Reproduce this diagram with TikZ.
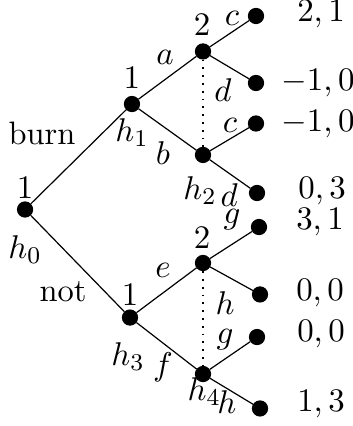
\documentclass[tikz,border=0pt]{standalone}
\usepackage{amsmath}
\usepackage{xcolor}
\usepackage{tikz}
\usetikzlibrary{positioning}

\begin{document}
\begin{tikzpicture}[
            every node/.style={font=\fontsize{10.8pt}{13pt}\selectfont},
            dot/.style={circle, fill=black, draw=black, inner sep=0pt, minimum size=5pt},
            txt/.style={inner sep=0pt},
            pay/.style={inner sep=0pt, anchor=base},
            edge/.style={thin},
            infoset/.style={dotted, semithick}]

            \useasboundingbox (0,0) rectangle (4.13,4.984);

            % Decision nodes
            \node (h0) [dot] at (0.293,2.533) {};
            \node (h1) [dot] at (1.544,3.767) {};
            \node (h3) [dot] at (1.521,1.269) {};
            \node (h2a) [dot] at (2.375,4.382) {};
            \node (h2) [dot] at (2.375,3.171) {};
            \node (h4a) [dot] at (2.375,1.907) {};
            \node (h4) [dot] at (2.375,0.608) {};

            % Terminal nodes
            \node (t1) [dot] at (2.995,4.797) {};
            \node (t2) [dot] at (2.995,4.013) {};
            \node (t3) [dot] at (2.995,3.539) {};
            \node (t4) [dot] at (3.007,2.726) {};
            \node (t5) [dot] at (3.030,2.328) {};
            \node (t6) [dot] at (3.042,1.539) {};
            \node (t7) [dot] at (3.007,1.041) {};
            \node (t8) [dot] at (3.042,0.205) {};

            % Edges
            \draw [edge] (h0) -- (h1);
            \draw [edge] (h0) -- (h3);
            \draw [edge] (h1) -- (h2a);
            \draw [edge] (h1) -- (h2);
            \draw [edge] (h3) -- (h4a);
            \draw [edge] (h3) -- (h4);
            \draw [edge] (h2a) -- (t1);
            \draw [edge] (h2a) -- (t2);
            \draw [edge] (h2) -- (t3);
            \draw [edge] (h2) -- (t4);
            \draw [edge] (h4a) -- (t5);
            \draw [edge] (h4a) -- (t6);
            \draw [edge] (h4) -- (t7);
            \draw [edge] (h4) -- (t8);

            % Information sets
            \draw [infoset] (h2a) -- (h2);
            \draw [infoset] (h4a) -- (h4);

            % Players and history names
            \node (pl0) [txt] at (0.293,2.785) {$1$};
            \node (nm0) [txt] at (0.293,2.059) {$h_0$};
            \node (pl1) [txt] at (1.544,4.072) {$1$};
            \node (nm1) [txt] at (1.544,3.428) {$h_1$};
            \node (pl2) [txt] at (2.363,4.692) {$2$};
            \node (nm2) [txt] at (2.340,2.750) {$h_2$};
            \node (pl3) [txt] at (1.521,1.533) {$1$};
            \node (nm3) [txt] at (1.498,0.807) {$h_3$};
            \node (pl4) [txt] at (2.363,2.200) {$2$};
            \node (nm4) [txt] at (2.390,0.398) {$h_4$};

            % Actions
            \node (burn) [txt] at (0.491,3.428) {burn};
            \node (not) [txt] at (0.737,1.568) {not};
            \node (aa) [txt] at (1.931,4.317) {$a$};
            \node (bb) [txt] at (1.907,3.194) {$b$};
            \node (cc1) [txt] at (2.714,4.774) {$c$};
            \node (dd1) [txt] at (2.609,3.931) {$d$};
            \node (cc2) [txt] at (2.691,3.522) {$c$};
            \node (dd2) [txt] at (2.680,2.703) {$d$};
            \node (ee) [txt] at (1.907,1.825) {$e$};
            \node (ff) [txt] at (1.907,0.690) {$f$};
            \node (gg1) [txt] at (2.714,2.410) {$g$};
            \node (hh1) [txt] at (2.633,1.439) {$h$};
            \node (gg2) [txt] at (2.633,1.006) {$g$};
            \node (hh2) [txt] at (2.655,0.281) {$h$};

            % Payoffs
            \node (u1) [pay] at (3.756,4.727) {$2,1$};
            \node (u2) [pay] at (3.720,3.931) {$-1,0$};
            \node (u3) [pay] at (3.720,3.440) {$-1,0$};
            \node (u4) [pay] at (3.768,2.656) {$0,3$};
            \node (u5) [pay] at (3.744,2.300) {$3,1$};
            \node (u6) [pay] at (3.744,1.474) {$0,0$};
            \node (u7) [pay] at (3.756,0.983) {$0,0$};
            \node (u8) [pay] at (3.756,0.164) {$1,3$};
        \end{tikzpicture}
\end{document}
